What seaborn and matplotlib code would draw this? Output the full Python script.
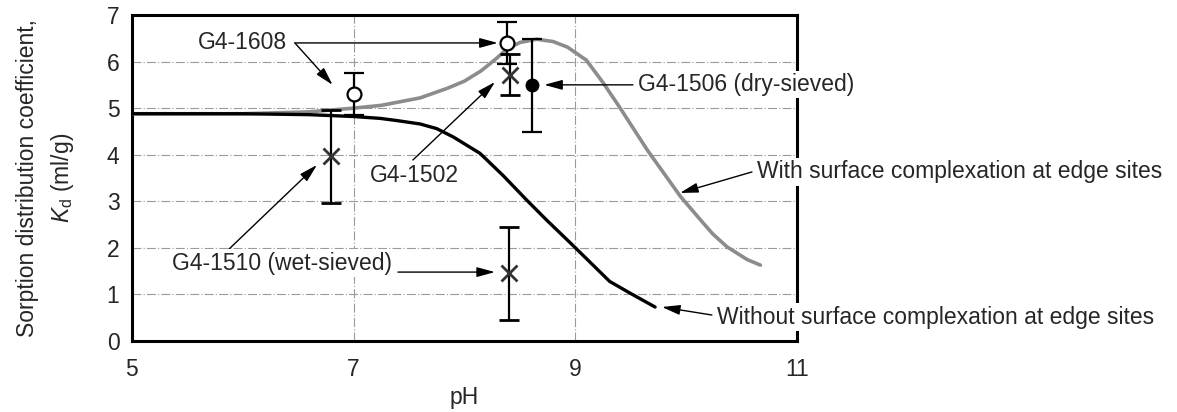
import numpy as np
import pandas as pd
import matplotlib
matplotlib.use("Agg")
import matplotlib.pyplot as plt
import seaborn as sns

# Model curves: Kd versus pH
ph_with = [5.0, 6.0, 6.6, 7.0, 7.25, 7.6, 7.85, 8.0, 8.15, 8.28, 8.38, 8.5, 8.65, 8.8,
           8.93, 9.1, 9.25, 9.4, 9.65, 9.95, 10.13, 10.24, 10.37, 10.55, 10.67]
kd_with = [4.88, 4.88, 4.92, 5.0, 5.06, 5.22, 5.43, 5.58, 5.8, 6.05, 6.26, 6.41, 6.48, 6.43,
           6.31, 6.03, 5.55, 5.02, 4.1, 3.1, 2.6, 2.3, 2.02, 1.75, 1.63]

ph_without = [5.0, 6.0, 6.6, 7.0, 7.24, 7.4, 7.6, 7.75, 7.9, 8.14, 8.35, 8.56, 8.74,
              8.98, 9.13, 9.31, 9.5, 9.72]
kd_without = [4.88, 4.88, 4.86, 4.82, 4.78, 4.73, 4.66, 4.56, 4.38, 4.03, 3.55, 3.03, 2.6,
              2.05, 1.7, 1.28, 1.02, 0.73]

# Measured samples
open_ph = [7.0, 8.38]
open_kd = [5.30, 6.40]
open_err = [0.45, 0.45]

filled_ph = [8.61]
filled_kd = [5.49]
filled_err = [1.0]

cross_ph = [6.8, 8.41, 8.40]
cross_kd = [3.97, 5.72, 1.45]
cross_err = [1.0, 0.44, 1.0]

sns.set_style("white")
plt.rcParams["font.family"] = ["Liberation Sans", "DejaVu Sans"]
plt.rcParams["mathtext.fontset"] = "custom"
plt.rcParams["mathtext.rm"] = "Liberation Sans"
plt.rcParams["mathtext.it"] = "Liberation Sans:italic"

FS = 16.5
fig = plt.figure(figsize=(11.77, 4.12), dpi=100)
ax = fig.add_axes([0.1121, 0.1723, 0.5650, 0.7913])

df_with = pd.DataFrame({"pH": ph_with, "Kd": kd_with})
df_without = pd.DataFrame({"pH": ph_without, "Kd": kd_without})
sns.lineplot(data=df_with, x="pH", y="Kd", ax=ax, color="#8c8c8c", lw=2.6,
             sort=False, estimator=None, zorder=3)
sns.lineplot(data=df_without, x="pH", y="Kd", ax=ax, color="black", lw=2.4,
             sort=False, estimator=None, zorder=3)

ekw = dict(ls="none", ecolor="black", elinewidth=1.6, capsize=7.5, capthick=1.6, zorder=4)
ax.errorbar(open_ph, open_kd, yerr=open_err, marker="o", ms=10, mfc="white",
            mec="black", mew=1.6, **ekw)
ax.errorbar(filled_ph, filled_kd, yerr=filled_err, marker="o", ms=9, mfc="black",
            mec="black", **ekw)
ax.errorbar(cross_ph, cross_kd, yerr=cross_err, marker="x", ms=11, mec="#333333",
            mew=2.0, **ekw)

ax.set_xlim(5, 11)
ax.set_ylim(0, 7)
ax.set_xticks([5, 7, 9, 11])
ax.set_yticks(range(0, 8))
ax.tick_params(axis="both", labelsize=FS, length=6, width=0.8, color="#888888",
               direction="out", pad=3)
ax.tick_params(axis="x", pad=6)
ax.grid(True, color="#9a9a9a", lw=0.8, linestyle=(0, (8, 2, 1, 2)))
for s in ax.spines.values():
    s.set_visible(True)
    s.set_color("black")
    s.set_linewidth(2.2)

ax.set_xlabel("pH", fontsize=FS, labelpad=4)
ax.set_ylabel("Sorption distribution coefficient,\n$K_{\\mathrm{d}}$ (ml/g)",
              fontsize=FS, labelpad=22, linespacing=1.5)

box = dict(facecolor="white", edgecolor="none", pad=1.5)
tkw = dict(fontsize=FS, va="center", ha="left", bbox=box, zorder=6, clip_on=False)
akw = dict(arrowstyle="-|>,head_length=1.1,head_width=0.3", color="black", lw=1.0,
           shrinkA=0, shrinkB=0)


def arrow(x0, y0, x1, y1):
    ax.annotate("", xy=(x1, y1), xytext=(x0, y0), arrowprops=akw,
                annotation_clip=False, zorder=5)


ax.text(5.596, 6.40, "G4-1608", **tkw)
arrow(6.47, 6.40, 6.81, 5.50)
arrow(6.47, 6.40, 8.30, 6.40)

ax.text(9.566, 5.50, "G4-1506 (dry-sieved)", **tkw)
arrow(9.52, 5.50, 8.72, 5.50)

ax.text(7.147, 3.56, "G4-1502", **tkw)
arrow(7.535, 3.887, 8.275, 5.56)

ax.text(5.361, 1.675, "G4-1510 (wet-sieved)", **tkw)
arrow(5.839, 1.89, 6.669, 3.78)
arrow(7.40, 1.48, 8.275, 1.48)

ax.text(10.639, 3.63, "With surface complexation at edge sites", **tkw)
arrow(10.594, 3.63, 9.945, 3.18)

ax.text(10.278, 0.515, "Without surface complexation at edge sites", **tkw)
arrow(10.233, 0.558, 9.782, 0.73)

fig.savefig("out.png", dpi=100)
